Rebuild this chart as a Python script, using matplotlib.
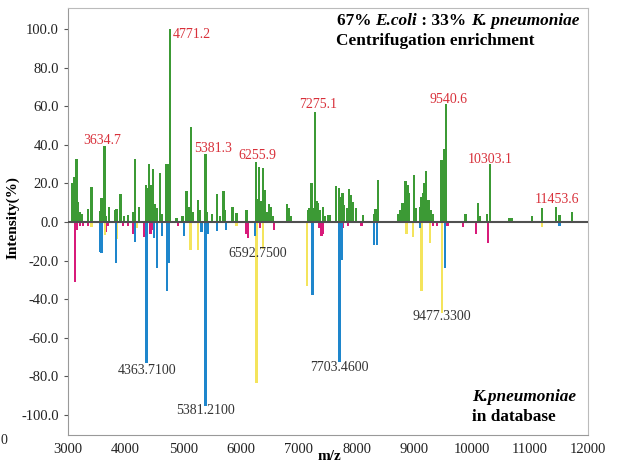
import numpy as np
import matplotlib.pyplot as plt

#########################################################################################
# Spectrum data (m/z, intensity %)
#########################################################################################
# measured spectrum: 67% E.coli : 33% K. pneumoniae (green, upward)
mix_mz = [3081, 3104, 3150, 3173, 3208, 3248, 3352, 3410, 3554, 3583, 3634.7, 3650,
          3715, 3813, 3843, 3912, 3969, 4043, 4130, 4164, 4233, 4349, 4379, 4406, 4448,
          4476, 4505, 4534, 4592, 4631, 4707, 4735, 4771.2, 4881, 4985, 5054, 5088, 5128,
          5157, 5254, 5284, 5381.3, 5400, 5491, 5583, 5630, 5694, 5716, 5849, 5918, 6092,
          6255.9, 6285, 6310, 6340, 6380, 6410, 6445, 6483, 6507, 6552, 6794, 6823, 6853,
          7157, 7185, 7216, 7245, 7275.1, 7302, 7330, 7360, 7417, 7446, 7498, 7533, 7636,
          7694, 7723, 7752, 7780, 7839, 7866, 7896, 7925, 7982, 8109, 8299, 8328, 8368,
          8726, 8760, 8790, 8820, 8847, 8877, 8904, 8991, 9020, 9095, 9124, 9147, 9176,
          9205, 9240, 9280, 9315, 9470, 9510, 9540.6, 9885, 10105, 10128, 10261, 10303.1,
          10647, 10687, 11033, 11213, 11453.6, 11512, 11731]
mix_int = [20, 23.5, 32.5, 10.5, 5, 4, 6.5, 18, 5.5, 12.5, 39.5, 3,
           7.5, 6, 6.5, 14.5, 3, 3.5, 5, 32.8, 8, 19, 17.5, 30, 19,
           27.3, 9.3, 7, 25.5, 4, 30.3, 30.3, 100, 2, 3, 16, 8, 49.4,
           5, 11.5, 6, 35.2, 5, 4, 14.5, 3, 15.8, 6, 8, 4.7, 6,
           31, 12, 28.3, 11, 27.8, 16.6, 5, 9.3, 8, 3, 9.3, 7, 3,
           6, 7, 20, 7, 57.2, 11, 10, 6, 8, 3, 3.5, 3.5, 18.7,
           17.5, 13, 15, 9, 7, 17, 14, 10.5, 7, 3.5, 4, 6.5, 22,
           4, 6, 10, 5, 21, 19, 15, 24.4, 7, 8, 13, 15, 20.4,
           26.4, 11.5, 6, 4, 32, 38, 61, 4, 10, 3, 4, 30,
           2, 2, 3, 7, 8, 3.5, 5]

# K. pneumoniae database spectra (downward)
blue_mz = [3554, 3583, 3830, 4159, 4363.71, 4488, 4545, 4631, 4718, 4752, 5012, 5313,
           5381.21, 5427, 5583, 5733, 6235, 7233, 7703.46, 7735, 8294, 8351, 9090, 9534,
           11512]
blue_int = [-15.4, -16.2, -21.5, -10.3, -73.4, -8.5, -24, -7.5, -36, -21.5, -7.5, -5,
            -95.2, -6.5, -4.5, -4, -7.3, -37.7, -72.4, -19.7, -11.9, -11.9, -3, -24,
            -2]

yellow_mz = [3410, 3645, 3853, 4188, 5123, 5254, 5918, 6265, 6379, 7140, 8860, 8974,
             9124, 9263, 9477.33, 11213]
yellow_int = [-2.8, -6.6, -8.7, -3, -14.3, -14.6, -2, -83.5, -13.8, -33, -6.2, -8,
              -35.6, -11, -47, -2.5]

pink_mz = [3121, 3161, 3208, 3265, 3346, 3657, 3697, 3957, 4043, 4130, 4315, 4431,
           4459, 4909, 6092, 6119, 6322, 6380, 6564, 7342, 7390, 7417, 7763, 7844, 8081,
           9315, 9384, 9574, 9839, 10059, 10272]
pink_int = [-31, -4, -2, -2, -2, -5, -2, -2, -2, -6.5, -8, -6,
            -4, -2, -6.5, -8.5, -3, -2, -4, -3, -7.5, -6.5, -3, -2, -2,
            -2, -2, -2, -2.5, -6, -11]

# peak labels (text, x, y)
top_labels = [('3634.7', 3588, 42.5), ('4771.2', 5150, 97.4), ('5381.3', 5510, 38.3),
              ('6255.9', 6278, 34.7), ('7275.1', 7330, 61), ('9540.6', 9583, 63.7),
              ('10303.1', 10318, 32.6), ('11453.6', 11460, 11.4)]
bottom_labels = [('4363.7100', 4367, -77.2), ('5381.2100', 5387, -97.9),
                 ('6592.7500', 6278, -16.6), ('7703.4600', 7697, -75.6),
                 ('9477.3300', 9470, -49.2)]

#########################################################################################
# Plot
#########################################################################################
plt.rcParams['font.family'] = 'Liberation Serif'

fig = plt.figure(figsize=(6.28, 4.66), dpi=100)
ax = fig.add_axes([0.108, 0.0665, 0.828, 0.9165])

w = 40
ax.bar(pink_mz, pink_int, width=w, color='#d81b7a', linewidth=0, zorder=2)
ax.bar(yellow_mz, yellow_int, width=w, color='#f4e45c', linewidth=0, zorder=2)
ax.bar(blue_mz, blue_int, width=w, color='#1e86cc', linewidth=0, zorder=2)
ax.bar(mix_mz, mix_int, width=w, color='#3c9a35', linewidth=0, zorder=3)
ax.axhline(0, color='#505050', lw=1.5, zorder=4)

for txt, x, y in top_labels:
    ax.text(x, y, txt, color='#d8303a', fontsize=10, ha='center', va='center')
for txt, x, y in bottom_labels:
    ax.text(x, y, txt, color='#333333', fontsize=10, ha='center', va='center')

# title block, mixing bold and bold italic pieces
fs = 12.4
t = ax.text(0.517, 0.969, '67% ', transform=ax.transAxes, fontsize=fs,
            weight='bold', va='center')
for piece, st in [('E.coli', 'italic'), (' : 33% ', 'normal'), ('K. pneumoniae', 'italic')]:
    t = ax.annotate(piece, xy=(1, 0), xycoords=t, va='bottom', fontsize=fs,
                    weight='bold', style=st)
ax.text(0.515, 0.922, 'Centrifugation enrichment', transform=ax.transAxes,
        fontsize=fs, weight='bold', va='center')
ax.text(0.777, 0.088, 'K.pneumoniae', transform=ax.transAxes, fontsize=fs,
        weight='bold', style='italic', va='center')
ax.text(0.777, 0.042, 'in database', transform=ax.transAxes, fontsize=fs,
        weight='bold', va='center')

ax.set_xlim(3000, 12000)
ax.set_ylim(-110.5, 111)
ax.set_xticks(np.arange(3000, 12001, 1000))
ax.set_yticks(np.arange(-100, 101, 20))
ax.set_yticklabels(['%.1f' % v for v in np.arange(-100, 101, 20)])
ax.tick_params(axis='both', labelsize=10.5, colors='#555555', labelcolor='#222222',
               length=3, width=0.8)
ax.tick_params(axis='x', length=0, pad=6)

for side in ['left', 'bottom']:
    ax.spines[side].set_color('#999999')
for side in ['top', 'right']:
    ax.spines[side].set_color('#bbbbbb')

ax.set_ylabel('Intensity(%)', fontsize=11, weight='bold')
ax.yaxis.set_label_coords(-0.092, 0.51)
ax.set_xlabel('m/z', fontsize=11, weight='bold')
ax.xaxis.set_label_coords(0.504, -0.034)

fig.text(0.006, 1 - 441 / 466, '0', fontsize=10, color='#222222', ha='center', va='center')

fig.savefig('out.png', dpi=100)
plt.close()
